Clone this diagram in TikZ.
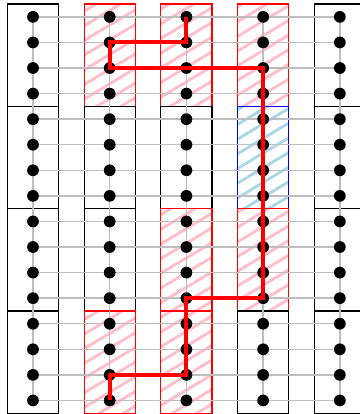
\documentclass[tikz,border=0pt]{standalone}
\usepackage{tikz}
\usetikzlibrary{patterns.meta,backgrounds}
\definecolor{hatchpink}{RGB}{255,190,200}
\definecolor{hatchblue}{RGB}{170,215,230}
\definecolor{gridgray}{RGB}{190,190,190}
\tikzset{
  basebox/.style={rectangle,line width=0.7pt,minimum width=1cm,minimum height=2cm,inner sep=0pt},
  plainbox/.style={basebox,draw=black},
  redbox/.style={basebox,draw=red,pattern={Lines[angle=31,distance=7pt,line width=1.6pt]},pattern color=hatchpink},
  bluebox/.style={basebox,draw=blue,pattern={Lines[angle=31,distance=7pt,line width=1.6pt]},pattern color=hatchblue},
  dotnode/.style={circle,fill=black,inner sep=0pt,minimum size=2.3mm},
  gridline/.style={draw=gridgray,line width=0.8pt},
  routeline/.style={draw=red,line width=2.2pt}
}
\begin{document}
\begin{tikzpicture}[x=0.5cm,y=-0.5cm]
  \clip (-1.29,-0.66) rectangle (12.77,15.53);

  %% qubit dots
  \foreach \c in {0,...,4}
    \foreach \r in {0,...,15}
      \node[dotnode] (d-\c-\r) at (3*\c,\r) {};

  %% blocks and grid behind the dots
  \begin{scope}[on background layer]
    \foreach \c/\sa/\sb/\sc/\sd in {0/plainbox/plainbox/plainbox/plainbox,
        1/redbox/plainbox/plainbox/redbox, 2/redbox/plainbox/redbox/redbox,
        3/redbox/bluebox/redbox/plainbox, 4/plainbox/plainbox/plainbox/plainbox}{
      \node[\sa] (b-\c-0) at (3*\c,1.5) {};
      \node[\sb] (b-\c-1) at (3*\c,5.5) {};
      \node[\sc] (b-\c-2) at (3*\c,9.5) {};
      \node[\sd] (b-\c-3) at (3*\c,13.5) {};
    }
    \foreach \r in {0,...,15}
      \draw[gridline] (d-0-\r.center) -- (d-4-\r.center);
    \foreach \c in {0,...,4}
      \draw[gridline] (d-\c-0.center) -- (d-\c-15.center);
  \end{scope}

  %% route
  \draw[routeline] (d-2-0.center) -- (d-2-1.center) -- (d-1-1.center) -- (d-1-2.center)
    -- (d-3-2.center) -- (d-3-11.center) -- (d-2-11.center) -- (d-2-14.center)
    -- (d-1-14.center) -- (d-1-15.center);
\end{tikzpicture}
\end{document}
